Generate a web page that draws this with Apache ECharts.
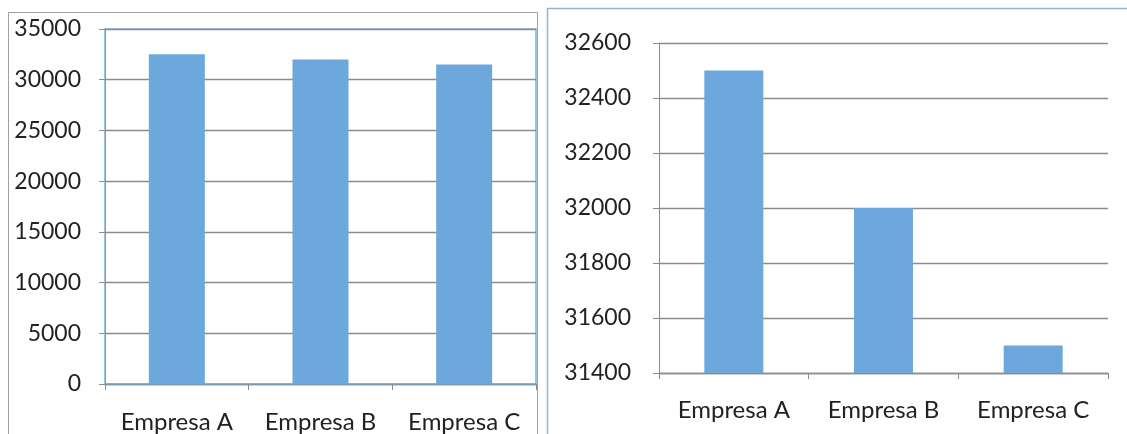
<!DOCTYPE html>
<html>
<head>
<meta charset="utf-8">
<script src="https://cdn.jsdelivr.net/npm/echarts@6/dist/echarts.min.js"></script>
<style>
  html, body { margin: 0; padding: 0; background: #fff; }
  #chart { width: 1127px; height: 434px; }
</style>
</head>
<body>
<div id="chart"></div>
<script>
// Same three companies shown on a full axis and on a truncated axis
const categories = ['Empresa A', 'Empresa B', 'Empresa C'];
const revenue = [32500, 32000, 31500];
const fullAxisTicks = { min: 0, max: 35000, interval: 5000 };
const zoomAxisTicks = { min: 31400, max: 32600, interval: 200 };

const barColor = '#6ca8db';
const gridLine = '#8c8c8c';
const textColor = '#222';
const font = 'Lato';

const chart = echarts.init(document.getElementById('chart'), null, { renderer: 'canvas' });

function yAxis(gridIndex, ticks, fontSize, axisColor, margin) {
  return {
    type: 'value', gridIndex,
    min: ticks.min, max: ticks.max, interval: ticks.interval,
    axisLine: { show: true, lineStyle: { color: axisColor, width: 1 } },
    axisTick: { show: true, inside: false, length: 6, lineStyle: { color: gridLine } },
    axisLabel: { color: textColor, fontSize, fontFamily: font, margin,
      formatter: v => String(v) },
    splitLine: { show: true, lineStyle: { color: gridLine, width: 1.3 } }
  };
}

function xAxis(gridIndex, fontSize, axisColor, margin) {
  return {
    type: 'category', gridIndex, data: categories,
    axisLine: { show: true, lineStyle: { color: axisColor, width: 1.3 } },
    axisTick: { show: true, alignWithLabel: false, length: 6, lineStyle: { color: gridLine } },
    axisLabel: { color: textColor, fontSize, fontFamily: font, margin,
      interval: 0, hideOverlap: false }
  };
}

chart.setOption({
  animation: false,
  backgroundColor: '#fff',
  graphic: [
    { type: 'rect', shape: { x: 8.5, y: 12.5, width: 529, height: 440 },
      style: { fill: 'none', stroke: '#a0a0a0', lineWidth: 1 }, z: 0 },
    { type: 'rect', shape: { x: 547.5, y: 8.5, width: 600, height: 440 },
      style: { fill: 'none', stroke: '#8fb4d4', lineWidth: 1.5 }, z: 0 }
  ],
  grid: [
    { left: 105, top: 29, right: 591, bottom: 49, show: true,
      borderColor: '#7aaedc', borderWidth: 1.5, backgroundColor: 'transparent' },
    { left: 659, top: 43, right: 19, bottom: 61 }
  ],
  xAxis: [xAxis(0, 24, '#7d9ab3', 26), xAxis(1, 24, gridLine, 25)],
  yAxis: [yAxis(0, fullAxisTicks, 23, '#8a9aa8', 24), yAxis(1, zoomAxisTicks, 23, gridLine, 28)],
  series: [
    { type: 'bar', xAxisIndex: 0, yAxisIndex: 0, data: revenue,
      barWidth: 56, itemStyle: { color: barColor } },
    { type: 'bar', xAxisIndex: 1, yAxisIndex: 1, data: revenue,
      barWidth: 59, itemStyle: { color: barColor } }
  ]
});
</script>
</body>
</html>
